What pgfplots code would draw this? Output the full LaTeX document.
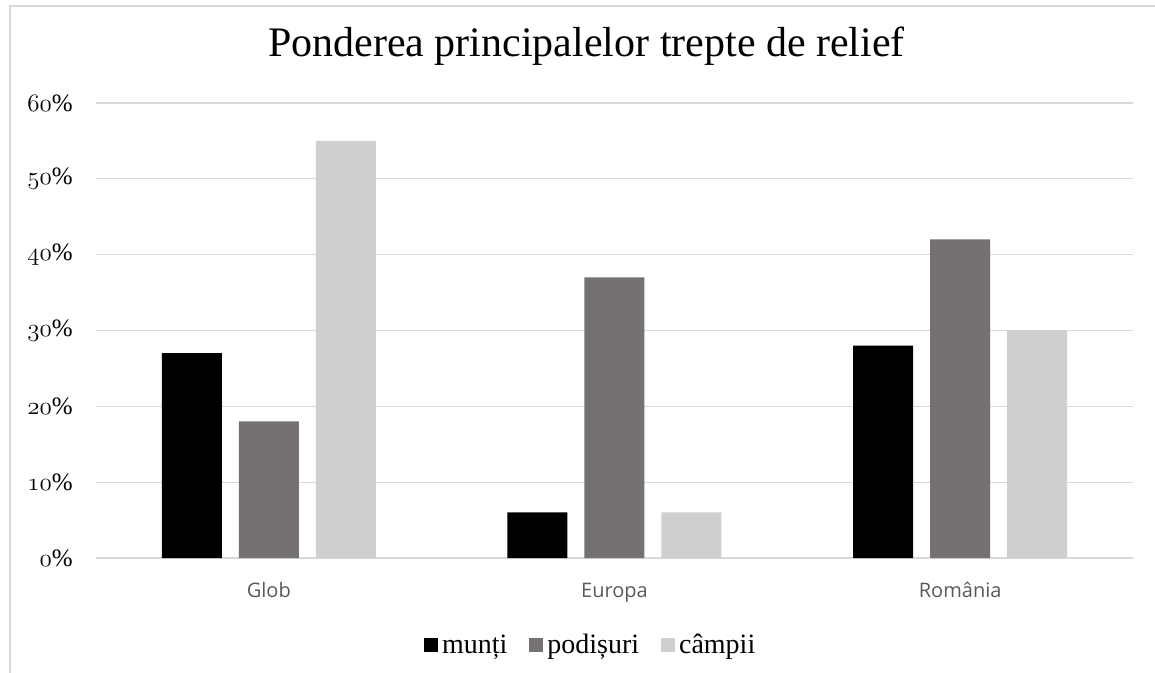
\RequirePackage{fix-cm}
\documentclass[border=0pt]{standalone}
\usepackage{pgfplots}
\pgfplotsset{compat=1.18}
\usepackage{fontspec}
\setmainfont{Liberation Serif}
\newfontfamily\labelfont{Open Sans}
\definecolor{cMunti}{HTML}{000000}
\definecolor{cPodis}{HTML}{767171}
\definecolor{cCampii}{HTML}{D0CECE}
\definecolor{cGrid}{HTML}{D9D9D9}
\definecolor{cLab}{HTML}{595959}
\newcommand{\osn}[1]{{\usefont{OML}{cmm}{m}{it}#1}}
\begin{document}
\begin{tikzpicture}
\path[use as bounding box] (0,0) rectangle (1155bp,673bp);
\draw[cGrid, line width=1.2bp] (10bp,0) -- (10bp,667bp) -- (1155bp,667bp);
\begin{axis}[
  at={(96bp,115bp)}, anchor=south west,
  scale only axis, width=1037bp, height=455bp,
  xmin=-0.5, xmax=2.5, ymin=0, ymax=60,
  ybar, bar width=60bp,
  xtick={0,1,2}, xticklabels={Glob,Europa,România},
  ytick={0,10,20,30,40,50,60},
  yticklabels={\osn{0}\%,\osn{10}\%,\osn{20}\%,\osn{30}\%,\osn{40}\%,\osn{50}\%,\osn{60}\%},
  major tick length=0pt,
  axis line style={draw=none},
  ymajorgrids, grid style={cGrid, line width=1.2bp},
  xticklabel style={font=\labelfont\fontsize{20bp}{24bp}\selectfont, text=cLab, anchor=base, yshift=-39bp},
  yticklabel style={font=\fontsize{25bp}{28bp}\selectfont, anchor=east, inner sep=0pt, xshift=-23bp},
  title={Ponderea principalelor trepte de relief},
  title style={font=\fontsize{42bp}{46bp}\selectfont, at={(0.473,1)}, anchor=base, yshift=41bp},
  legend style={at={(0.477,0)}, anchor=center, yshift=-87bp, draw=none, fill=none,
    legend columns=-1, font=\fontsize{28bp}{32bp}\selectfont,
    /tikz/every even column/.append style={column sep=20bp},
    /tikz/every odd column/.append style={column sep=2bp}},
  legend image code/.code={\fill[#1] (0bp,-7bp) rectangle (14bp,7bp);},
  clip=false,
]
\addplot[fill=cMunti, draw=none, bar shift=-77bp] coordinates {(0,27) (1,6) (2,28)};
\addplot[fill=cPodis, draw=none, bar shift=0bp] coordinates {(0,18) (1,37) (2,42)};
\addplot[fill=cCampii, draw=none, bar shift=77bp] coordinates {(0,55) (1,6) (2,30)};
\legend{munți,podișuri,câmpii}
\end{axis}
\end{tikzpicture}
\end{document}
